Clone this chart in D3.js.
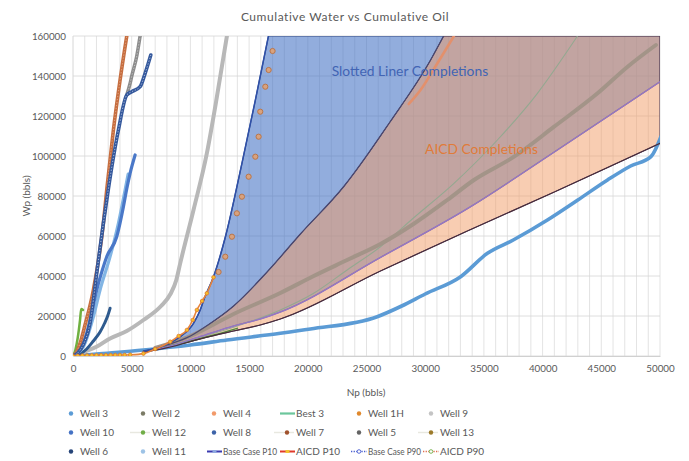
<!DOCTYPE html>
<html><head><meta charset="utf-8">
<script src="https://cdn.jsdelivr.net/npm/d3@7"></script>
<style>
body{margin:0;background:#fff;}
text{font-family:Lato,Roboto,"Liberation Sans",sans-serif;fill:#595959;}
</style></head>
<body><svg id="c" width="689" height="461"></svg>
<script>
// ---- data (Np, Wp) in bbls ----
const xTicks = [0,5000,10000,15000,20000,25000,30000,35000,40000,45000,50000];
const yTicks = [0,20000,40000,60000,80000,100000,120000,140000,160000];

const baseP10 = [[6000,2500],[7423,4500],[9130,9650],[10265,16350],[10835,23000],[11200,29000],[11970,39650],[13000,60000],[14390,96350],[15500,127000],[16650,160000]];
const baseP90 = [[6000,2000],[8300,5000],[11000,10000],[13680,15000],[15950,18500],[17660,22000],[26190,49300],[33870,74650],[41000,102000],[50000,137150]];
const aicdP10 = [[6000,2300],[8000,5500],[10000,10000],[11500,15500],[13680,25000],[16530,42000],[19370,61000],[23100,85000],[27000,117000],[30460,148000],[31570,160000]];
const aicdP90 = [[6000,1800],[8300,4500],[11000,8800],[13680,12500],[15950,15500],[17660,18500],[26190,42500],[33590,62500],[41000,82000],[50000,106300]];

const well3  = [[0,0],[2000,1000],[6000,3000],[10000,5500],[13110,8000],[17660,11350],[20220,13500],[25910,19650],[28000,25000],[30000,31000],[33020,39650],[35300,51350],[37500,58000],[40410,68000],[43000,78000],[45530,88000],[47500,95000],[49230,99650],[50080,109650]];
const well9  = [[0,0],[1000,2200],[2000,4600],[3157,8800],[4580,12500],[6000,18000],[7500,25000],[8300,31000],[8800,38000],[9130,46300],[10265,73000],[11400,101300],[12260,129650],[13110,160000]];
const well4  = [[0,0],[300,2000],[600,6350],[1000,15000],[1735,33000],[2588,66350],[2873,83000],[3441,113000],[4010,138000],[4580,160000]];
const well8  = [[0,0],[400,1500],[900,6000],[1450,16350],[2020,41350],[2588,66350],[3015,83650],[3868,113000],[4580,130500],[5006,132150],[5716,134650],[6143,141350],[6626,150500]];
const well2  = [[4580,130500],[4850,136000],[5006,140000],[5432,150000],[5716,160000]];
const well10 = [[0,0],[500,2500],[1166,11350],[1600,22000],[2020,33000],[2500,43000],[2873,49650],[3725,59650],[4295,74650],[4580,83650],[4863,91350],[5290,100500]];
const well11 = [[0,0],[880,4650],[1735,19650],[2304,33000],[3157,49650],[3868,66350],[4437,83000],[4700,91000]];
const well6  = [[0,0],[600,1000],[1166,3500],[1735,7500],[2304,12000],[2700,16500],[2950,20000],[3157,23850]];
const well12 = [[0,0],[200,3000],[400,9000],[600,18000],[700,23500],[850,23000]];
const well5  = [[7000,4000],[10000,10000],[13680,21000],[17660,31500],[20500,40000],[23350,48000],[26190,56000],[29000,66000],[31880,78000],[34150,88000],[37570,99650],[40980,114650],[44680,131350],[47240,144650],[49650,155500]];
const well13 = [[6000,2200],[10000,8000],[14000,15000],[17660,23000],[20500,31350],[23350,43000],[26190,54650],[29000,69000],[32450,86350],[36150,108000],[39560,131350],[42975,160000]];
const best3  = [[6000,2200],[9000,6000],[12000,10500],[13990,13830]];
const well7  = [[28600,126000],[29600,133000],[31000,146000],[32450,160000]];
const well1HLow  = [[0,0],[400,100],[800,200],[1200,250],[1600,300],[2000,350],[2400,400],[2800,400],[3200,450],[3600,450],[4000,500],[4400,500],[4870,600],[6000,1200],[7000,3500],[8276,7150],[9000,10000],[9700,13000],[10200,18000],[10550,23000],[11000,27500],[11400,31350],[11970,39350]];
const well1HHigh = [[12400,42000],[12970,49650],[13540,59650],[13960,71350],[14390,79650],[14960,89650],[15530,99650],[15810,109650],[15950,122150],[16380,134650],[16665,143000],[17000,152500]];

const annotations = [{text:"Slotted Liner Completions", x:28700, y:139800, color:"#4164b4"},
                     {text:"AICD Completions", x:34800, y:100800, color:"#e07b39"}];

const legendRows = [
  [["Well 3","dot","#5b9bd5"],["Well 2","dot","#7b7b66"],["Well 4","dot","#f29a6a"],["Best 3","line","#6cc69c"],["Well 1H","dot","#e0882c"],["Well 9","dot","#c4c4c4"]],
  [["Well 10","dot","#4472c4"],["Well 12","ldot","#70ad47"],["Well 8","dot","#3d63a8"],["Well 7","ldot","#a0522d"],["Well 5","dot","#636363"],["Well 13","ldot","#9c7a2a"]],
  [["Well 6","dot","#264478"],["Well 11","dot","#9dc3e6"],["Base Case P10","lmark","#3b3bb0"],["AICD P10","lmark","#e03a2a"],["Base Case P90","dotted","#4a5fd0"],["AICD P90","dotted","#e07050"]]
];

// ---- layout ----
const svg = d3.select("#c");
const L=73, R=660, T=36, B=356;
const x = d3.scaleLinear().domain([0,50000]).range([L,R]);
const y = d3.scaleLinear().domain([0,160000]).range([B,T]);

svg.append("defs").append("clipPath").attr("id","pc").append("rect")
  .attr("x",L).attr("y",T).attr("width",R-L).attr("height",B-T);

// grid
const g = svg.append("g");
g.selectAll("line.v").data(d3.range(1000,50001,1000)).join("line")
  .attr("x1",d=>x(d)).attr("x2",d=>x(d)).attr("y1",T).attr("y2",B)
  .attr("stroke","#dcdcdc").attr("stroke-width",0.8);
g.selectAll("line.h").data(yTicks).join("line")
  .attr("x1",L).attr("x2",R).attr("y1",d=>y(d)).attr("y2",d=>y(d))
  .attr("stroke","#d6d6d6").attr("stroke-width",0.8);
g.append("line").attr("x1",L).attr("x2",L).attr("y1",T).attr("y2",B).attr("stroke","#d6d6d6");

// axes
const xa = svg.append("g").attr("transform",`translate(0,${B})`)
  .call(d3.axisBottom(x).tickValues(xTicks).tickSize(0).tickPadding(9).tickFormat(d3.format("d")));
xa.select(".domain").attr("stroke","#d0d0d0");
const ya = svg.append("g").attr("transform",`translate(${L},0)`)
  .call(d3.axisLeft(y).tickValues(yTicks).tickSize(0).tickPadding(7).tickFormat(d3.format("d")));
ya.select(".domain").remove();
svg.selectAll(".tick text").style("font-size","9.8px").style("fill","#595959").style("font-family","Lato, sans-serif");

// titles
svg.append("text").attr("x",345).attr("y",21).attr("text-anchor","middle").style("font-size","12px").style("letter-spacing","0.55px").text("Cumulative  Water vs Cumulative  Oil");
svg.append("text").attr("x",366).attr("y",396).attr("text-anchor","middle").style("font-size","10px").text("Np (bbls)");
svg.append("text").attr("transform","translate(30,196) rotate(-90)").attr("text-anchor","middle").style("font-size","10px").text("Wp (bbls)");

const plot = svg.append("g").attr("clip-path","url(#pc)");
const mono = d3.line().x(d=>x(d[0])).y(d=>y(d[1])).curve(d3.curveMonotoneX);

function band(upper, lower){
  const cap = [[50000,160000]];
  const up = mono(upper);
  const c = "L" + x(cap[0][0]) + "," + y(cap[0][1]);
  const lo = mono(lower.slice().reverse()).replace(/^M/,"L");
  return up + c + lo + "Z";
}
// areas
plot.append("path").attr("d",band(baseP10,baseP90)).attr("fill","#4472c4").attr("fill-opacity",0.58)
  .attr("stroke","#3a4f86").attr("stroke-width",1.2);
plot.append("path").attr("d",band(aicdP10,aicdP90)).attr("fill","#f29c66").attr("fill-opacity",0.5)
  .attr("stroke","#4a3d5a").attr("stroke-width",1);

function drawLine(data,color,w,opts={}){
  const p = plot.append("path").attr("d",mono(data)).attr("fill","none")
    .attr("stroke",color).attr("stroke-width",w).attr("stroke-linecap","round").attr("stroke-linejoin","round");
  if(opts.tex){
    plot.append("path").attr("d",mono(data)).attr("fill","none")
      .attr("stroke",opts.tex).attr("stroke-width",1).attr("stroke-dasharray","1.2,1.8").attr("stroke-opacity",0.8);
  }
  return p;
}
// wells
drawLine(well3,"#5b9bd5",3.6);
drawLine(well9,"#b8b8b8",4);
drawLine(well13,"#94a890",1.1);
drawLine(well5,"#a39488",4);
drawLine(best3,"#4e8a3a",1.5);
drawLine(well7,"#e3906c",2.6);
drawLine(well12,"#6fb040",2.5);
drawLine(well6,"#2e5a8e",3);
drawLine(well11,"#82b5e4",3.2);
drawLine(well10,"#4a78c8",3.2);
drawLine(well2,"#8c8c8c",3.5,{tex:"#d0d0d0"});
drawLine(well4,"#c66e40",3.6,{tex:"#eab090"});
drawLine(well8,"#34589c",3.6,{tex:"#c8d4ec"});

// envelope lines on top
drawLine(baseP90,"#9476c6",1.4);
drawLine(aicdP90,"#4a2c3c",1.2);
drawLine(aicdP10,"#4a4870",1.3);
drawLine(baseP10,"#2f50a8",1.5);

// Well 1H
drawLine(well1HLow,"#e8843c",1.6);
plot.selectAll("circle.lo").data(well1HLow).join("circle")
  .attr("cx",d=>x(d[0])).attr("cy",d=>y(d[1])).attr("r",1.8)
  .attr("fill","#f5c02a").attr("stroke","#e07a2c").attr("stroke-width",0.8);
plot.selectAll("circle.hi").data(well1HHigh).join("circle")
  .attr("cx",d=>x(d[0])).attr("cy",d=>y(d[1])).attr("r",2.6)
  .attr("fill","#d8a27e").attr("stroke","#b8764c").attr("stroke-width",1);

// annotations
svg.selectAll("text.ann").data(annotations).join("text")
  .attr("x",d=>x(d.x)).attr("y",d=>y(d.y)).attr("text-anchor","middle")
  .style("font-size","13.8px").style("fill",d=>d.color).text(d=>d.text);

// legend
const colX = [80,152,223,296,368,440], rowY=[417,436,455];
legendRows.forEach((row,ri)=>row.forEach((it,ci)=>{
  const [name,type,col]=it; const tx=colX[ci], ty=rowY[ri];
  const lg = svg.append("g");
  if(type==="dot"){
    lg.append("circle").attr("cx",tx-9).attr("cy",ty-3.5).attr("r",2.2).attr("fill",col);
  } else if(type==="line"){
    lg.append("line").attr("x1",tx-16).attr("x2",tx-1).attr("y1",ty-3.5).attr("y2",ty-3.5).attr("stroke",col).attr("stroke-width",2.2);
  } else if(type==="ldot"){
    lg.append("line").attr("x1",tx-22).attr("x2",tx-2).attr("y1",ty-3.5).attr("y2",ty-3.5).attr("stroke","#e8e8e0").attr("stroke-width",1.5);
    lg.append("circle").attr("cx",tx-9).attr("cy",ty-3.5).attr("r",2.2).attr("fill",col);
  } else if(type==="lmark"){
    lg.append("line").attr("x1",tx-16).attr("x2",tx-1).attr("y1",ty-3.5).attr("y2",ty-3.5).attr("stroke",col).attr("stroke-width",2);
    lg.append("rect").attr("x",tx-10.5).attr("y",ty-5).attr("width",4).attr("height",3).attr("fill",ci===3?"#f2c230":"#8fa8e0");
  } else if(type==="dotted"){
    lg.append("line").attr("x1",tx-17).attr("x2",tx-1).attr("y1",ty-3.5).attr("y2",ty-3.5).attr("stroke",col).attr("stroke-width",1.3).attr("stroke-dasharray","1.3,1.3");
    lg.append("circle").attr("cx",tx-9).attr("cy",ty-3.5).attr("r",1.8).attr("fill","#fff").attr("stroke",ci===5?"#70ad47":col).attr("stroke-width",0.9);
  }
  const t = lg.append("text").attr("x",tx).attr("y",ty).style("font-size","10px").style("fill","#595959").text(name);
  const maxW = (ci<5 ? colX[ci+1]-tx-19 : 70);
  if(t.node().getComputedTextLength() > maxW) t.attr("textLength",maxW).attr("lengthAdjust","spacingAndGlyphs");
}));
</script></body></html>
